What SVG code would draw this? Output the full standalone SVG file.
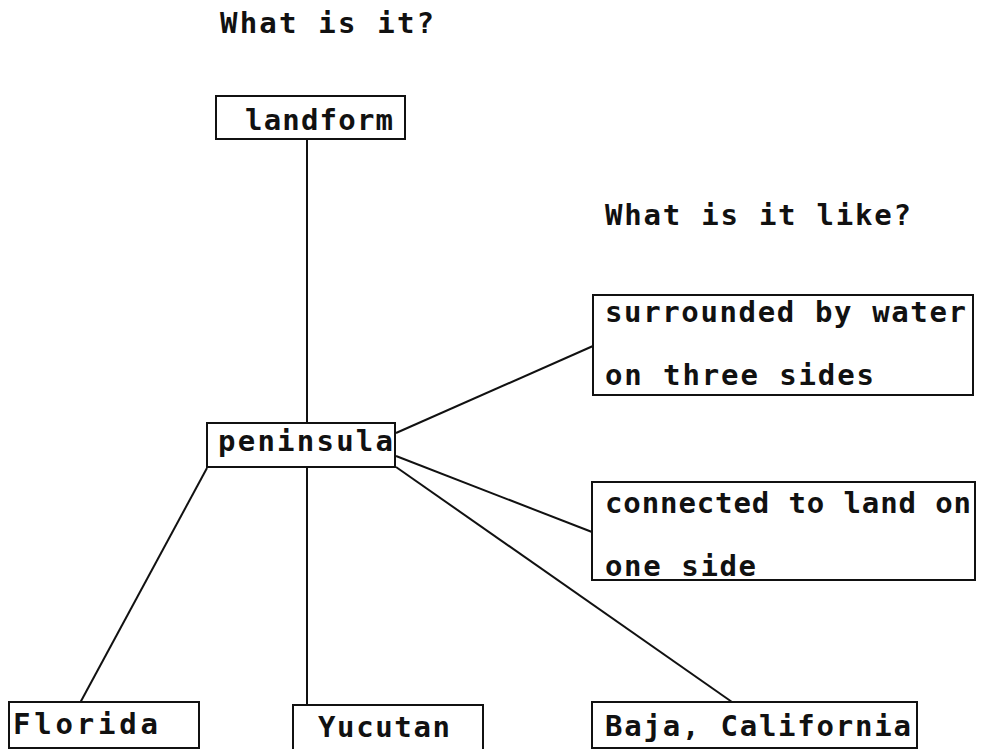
<svg xmlns="http://www.w3.org/2000/svg" width="993" height="749" viewBox="0 0 993 749">
<style>
.t{font-family:"DejaVu Sans Mono","Liberation Mono",monospace;font-size:29px;font-weight:bold;fill:#111}
.b{fill:#fff;stroke:#111;stroke-width:2}
.c line{stroke:#111;stroke-width:2}
</style>
<rect width="993" height="749" fill="#fff"/>
<text class="t" x="220" y="33" textLength="214" lengthAdjust="spacing">What is it?</text>
<text class="t" x="605" y="225" textLength="306" lengthAdjust="spacing">What is it like?</text>
<g class="c" id="connectors">
<line x1="307" y1="139" x2="307" y2="423"/>
<line x1="307" y1="467" x2="307" y2="705"/>
<line x1="207" y1="468" x2="80" y2="703"/>
<line x1="396" y1="433" x2="593" y2="346"/>
<line x1="396" y1="456" x2="592" y2="532"/>
<line x1="396" y1="467" x2="732" y2="702"/>
</g>
<g id="landform"><rect class="b" x="216" y="96" width="189" height="43"/><text class="t" x="245" y="130" textLength="148" lengthAdjust="spacing">landform</text></g>
<g id="peninsula"><rect class="b" x="207" y="423" width="188" height="44"/><text class="t" x="218" y="451" textLength="175" lengthAdjust="spacing">peninsula</text></g>
<g id="surrounded"><rect class="b" x="593" y="295" width="380" height="100"/><text class="t" x="605" y="322" textLength="361" lengthAdjust="spacing">surrounded by water</text><text class="t" x="605" y="385" textLength="269" lengthAdjust="spacing">on three sides</text></g>
<g id="connected"><rect class="b" x="592" y="482" width="383" height="98"/><text class="t" x="605" y="513" textLength="366" lengthAdjust="spacing">connected to land on</text><text class="t" x="605" y="576" textLength="151" lengthAdjust="spacing">one side</text></g>
<g id="florida"><rect class="b" x="9" y="702" width="190" height="46"/><text class="t" x="13" y="734" textLength="145" lengthAdjust="spacing">Florida</text></g>
<g id="yucutan"><rect class="b" x="293" y="705" width="190" height="50"/><text class="t" x="318" y="737" textLength="132" lengthAdjust="spacing">Yucutan</text></g>
<g id="baja"><rect class="b" x="592" y="702" width="325" height="46"/><text class="t" x="605" y="736" textLength="306" lengthAdjust="spacing">Baja, California</text></g>
</svg>
